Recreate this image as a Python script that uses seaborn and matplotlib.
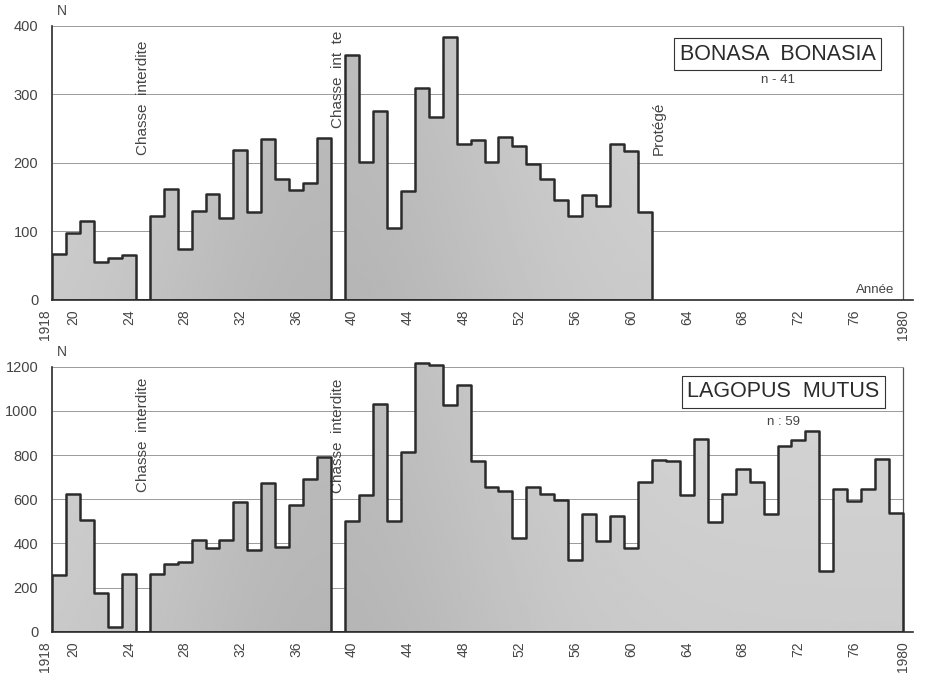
import numpy as np
import pandas as pd
import matplotlib
matplotlib.use("Agg")
import matplotlib.pyplot as plt
from matplotlib.patches import PathPatch
import seaborn as sns

# hunting bag per season (closed seasons 1924 and 1938 are missing on purpose)
bonasa_years = list(range(1918, 1924)) + list(range(1925, 1938)) + list(range(1939, 1961))
bonasa_n = [67, 98, 116, 55, 62, 65,
            123, 162, 75, 130, 155, 120, 219, 128, 235, 177, 161, 171, 237,
            358, 202, 276, 105, 159, 310, 267, 384, 228, 233, 202, 238, 225,
            198, 177, 146, 122, 153, 137, 228, 218, 129]

lagopus_years = list(range(1918, 1924)) + list(range(1925, 1938)) + list(range(1939, 1979))
lagopus_n = [255, 623, 504, 174, 20, 263,
             263, 308, 317, 417, 380, 417, 589, 370, 672, 385, 572, 691, 789,
             500, 620, 1033, 500, 816, 1218, 1206, 1025, 1116, 771, 657, 636,
             425, 657, 624, 598, 326, 531, 409, 523, 380, 680, 779, 771, 618,
             871, 499, 624, 737, 680, 534, 842, 868, 910, 275, 647, 594, 647,
             783, 537]

year_ticks = [1918, 1920, 1924, 1928, 1932, 1936, 1940, 1944, 1948, 1952,
              1956, 1960, 1964, 1968, 1972, 1976, 1979]
year_labels = ["1918", "20", "24", "28", "32", "36", "40", "44", "48", "52",
               "56", "60", "64", "68", "72", "76", "1980"]

bonasa_yticks = [0, 100, 200, 300, 400]
lagopus_yticks = [0, 200, 400, 600, 800, 1000, 1200]

sns.set_style("white")
plt.rcParams["font.family"] = ["Liberation Sans", "DejaVu Sans"]

INK = "#2b2b2b"
GREY = "#444444"


def draw_panel(ax, years, counts, yticks, title, n_text, notes):
    ymax = yticks[-1]
    ytop = max(ymax, max(counts) * 1.01)
    df = pd.DataFrame({"year": years, "n": counts})
    bins = list(range(1918, max(years) + 2))
    sns.histplot(data=df, x="year", weights="n", bins=bins, element="step",
                 fill=True, color="#c0c0c0", alpha=1, edgecolor=INK,
                 linewidth=1.8, zorder=3, ax=ax)

    # halftone-like shading: a bit darker in the middle of the period
    poly = ax.collections[-1]
    poly.set_facecolor("none")
    clip = PathPatch(poly.get_paths()[0], transform=ax.transData,
                     fc="none", ec="none")
    ax.add_patch(clip)
    gx, gy = np.meshgrid(np.linspace(1918, 1980, 400), np.linspace(0, 1, 100))
    shade = 0.83 - 0.09 * np.exp(-((gx - 1938) / 14) ** 2) - 0.03 * (1 - gy)
    ax.imshow(shade, extent=[1918, 1980, 0, ytop], origin="lower", cmap="gray",
              vmin=0, vmax=1, aspect="auto", zorder=2, clip_path=clip,
              interpolation="bilinear")

    # horizontal rules behind the bars + right frame
    ax.hlines(yticks[1:], 1918, 1979, color="#9a9a9a", lw=0.7, zorder=1)
    ax.vlines(1979, 0, ymax, color="#555555", lw=0.9, zorder=1)

    ax.set_xlim(1918, 1979.7)
    ax.set_ylim(0, ytop)
    ax.set_xlabel("")
    ax.set_ylabel("")

    ax.set_xticks(year_ticks)
    ax.set_xticklabels(year_labels, rotation=90, fontsize=10, color=GREY)
    for lab in ax.get_xticklabels()[:-1]:
        lab.set_ha("right")
    ax.set_xticks(np.arange(1918, 1980), minor=True)
    ax.set_yticks(yticks)
    ax.set_yticklabels([str(v) for v in yticks], fontsize=10.5, color=GREY)
    ax.tick_params(axis="x", which="both", direction="out", length=4,
                   width=0.8, color=INK, pad=3)
    ax.tick_params(axis="y", direction="out", length=8, width=0.8,
                   color="#555555", pad=2)

    for side in ["top", "right"]:
        ax.spines[side].set_visible(False)
    ax.spines["left"].set_bounds(0, ymax)
    ax.spines["left"].set_color(INK)
    ax.spines["left"].set_linewidth(1.2)
    ax.spines["bottom"].set_color(INK)
    ax.spines["bottom"].set_linewidth(1.2)

    ax.text(1918.35, ymax * 1.03, "N", fontsize=10, color=GREY,
            va="bottom", ha="left")

    # species box and sample size
    box_x, box_y, n_y = title[1], title[2], title[3]
    ax.text(box_x, box_y, title[0], fontsize=15.5, color=INK, ha="center",
            va="center", zorder=5,
            bbox=dict(boxstyle="square,pad=0.25", fc="white", ec="#333333", lw=0.8))
    ax.text(box_x, n_y, n_text, fontsize=9.5, color=GREY, ha="center",
            va="center", zorder=5)

    for txt, x, y in notes:
        ax.text(x, y, txt, rotation=90, fontsize=11, color=GREY,
                ha="center", va="bottom", zorder=2)


fig = plt.figure(figsize=(9.26, 6.77), dpi=100)
ax1 = fig.add_axes([0.0562, 0.5569, 0.9296, 0.4047])
# top of the lower panel reaches a bit above 1200 for the 1945 peak
ax2 = fig.add_axes([0.0562, 0.0669, 0.9296, 0.3914 * 1218 * 1.01 / 1200])

draw_panel(ax1, bonasa_years, bonasa_n, bonasa_yticks,
           ("BONASA  BONASIA", 1970.0, 359, 321), "n - 41",
           [("Chasse  interdite", 1924.5, 212),
            ("Chasse  int  te", 1938.5, 251),
            ("Protégé", 1961.5, 212)])
ax1.text(1978.4, 6, "Année", fontsize=9.5, color=GREY, ha="right", va="bottom")

draw_panel(ax2, lagopus_years, lagopus_n, lagopus_yticks,
           ("LAGOPUS  MUTUS", 1970.4, 1086, 950), "n : 59",
           [("Chasse  interdite", 1924.5, 633),
            ("Chasse  interdite", 1938.5, 630)])

fig.savefig("out.png", dpi=100)
